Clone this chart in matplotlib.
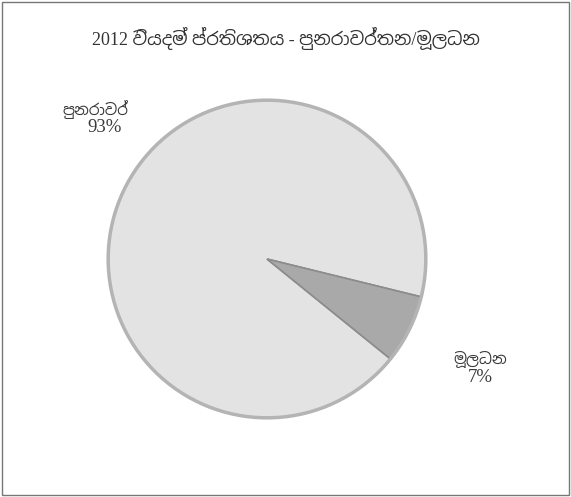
import matplotlib.pyplot as plt
from matplotlib import font_manager
from matplotlib.patches import Rectangle

# data
title = '2012 වියදම් ප්රතිශතය - පුනරාවර්තන/මූලධන'
labels = ['පුනරාවර්', 'මූලධන']
values = [93, 7]
colors = ['#e3e3e3', '#a9a9a9']

# look for any font that can do Sinhala
sinhala = []
for f in font_manager.fontManager.ttflist:
    if 'sinhala' in f.name.lower() or 'iskoola' in f.name.lower():
        sinhala.append(f.name)
fams = ['Liberation Serif'] + sorted(set(sinhala)) + ['DejaVu Serif']
plt.rcParams['font.family'] = fams

fig = plt.figure(figsize=(5.71, 4.97), dpi=100)
W, H = 571, 497
cx, cy, r = 267, 259, 162
ax = fig.add_axes([(cx - r) / W, (H - cy - r) / H, 2 * r / W, 2 * r / H])

wedges, _ = ax.pie(values, colors=colors, startangle=-13.8, counterclock=True,
                   radius=1, wedgeprops=dict(edgecolor='#8c8c8c', linewidth=1.2))
# outer ring
circ = plt.Circle((0, 0), 1, fill=False, edgecolor='#b4b4b4', linewidth=2.5)
ax.add_patch(circ)
ax.set_xlim(-1.02, 1.02)
ax.set_ylim(-1.02, 1.02)
ax.axis('off')

pct = [str(v) + '%' for v in values]
# label positions (data coords, relative to the pie)
name_pos = [(-1.08, 0.94), (1.345, -0.63)]
pct_pos = [(-1.025, 0.825), (1.345, -0.745)]
for i in range(len(values)):
    ax.text(name_pos[i][0], name_pos[i][1], labels[i], ha='center', va='center',
            fontsize=11, color='#3a3a3a')
    ax.text(pct_pos[i][0], pct_pos[i][1], pct[i], ha='center', va='center',
            fontsize=13.5, color='#3a3a3a')

fig.text(0.5, 1 - 38 / H, title, ha='center', va='center', fontsize=13, color='#333333')

# scanned box border
fig.patches.append(Rectangle((0.004, 0.004), 0.992, 0.992, transform=fig.transFigure,
                             fill=False, edgecolor='#777777', linewidth=1.0))

fig.savefig('out.png', dpi=100)
